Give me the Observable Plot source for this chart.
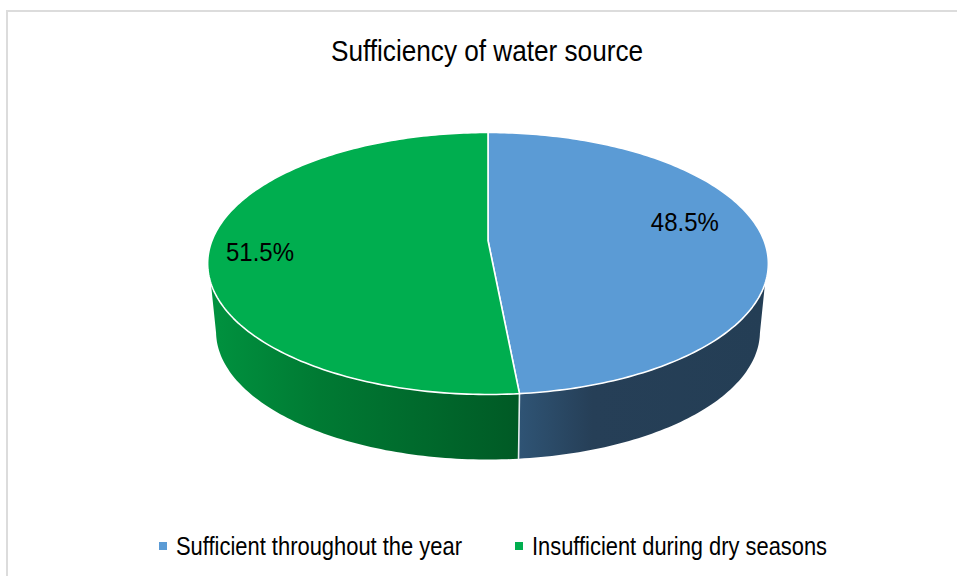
<!DOCTYPE html>
<html><head><meta charset="utf-8">
<script src="https://cdn.jsdelivr.net/npm/d3@7"></script>
<script src="https://cdn.jsdelivr.net/npm/@observablehq/plot@0.6"></script>
<style>
html,body{margin:0;padding:0;background:#fff;}
#page{position:relative;width:957px;height:576px;overflow:hidden;font-family:"Liberation Sans",Arial,sans-serif;color:#000;}
#frame{position:absolute;left:6px;top:10px;right:-4px;bottom:-4px;border-top:2px solid #dcdcdc;border-left:2px solid #dcdcdc;}
.fit{position:absolute;white-space:nowrap;transform-origin:0 0;line-height:1;}
.sw{position:absolute;width:8px;height:8px;}
#chart{position:absolute;left:0;top:76px;}
svg{display:block;}
</style></head><body>
<div id="page">
<div id="frame"></div>
<div id="title" class="fit" style="font-size:30px;left:331px;top:36px">Sufficiency of water source</div>
<div id="chart"></div>
<div id="legend"></div>
</div>
<script>
// Data
const categories = ["Sufficient throughout the year", "Insufficient during dry seasons"];
const shares = [48.5, 51.5];
const topColors = ["#5b9bd5", "#00ae4f"];
const wallStops = [
  [[0, "#2f5475"], [0.3, "#263f57"], [1, "#243e55"]],
  [[0, "#00923f"], [0.35, "#007a33"], [0.65, "#006b2d"], [1, "#005a25"]]
];

// Perspective layout of the disc
const cx = 487.5, k = 276, c = -0.1756, a = 84.8, b = 240;
const depthX = 0.97, depthY = 0.977, rimBottom = 394, baseBottom = 459;
const wallFromY = 283, baseFromY = 263;
const project = (r, th) => {
  const u = r * Math.sin(th), v = -r * Math.cos(th), d = 1 + c * v;
  return {x: cx + k * u / d, y: (a * v + b) / d};
};
const toBase = p => ({x: cx + (p.x - cx) * depthX, y: baseBottom - (rimBottom - p.y) * depthY});

let acc = 0;
const total = d3.sum(shares);
const slices = shares.map((s, i) => {
  const t0 = acc / total * 2 * Math.PI; acc += s;
  const t1 = acc / total * 2 * Math.PI;
  return {i, s, t0, t1};
});
const arcOf = ({t0, t1}) => {
  const n = Math.ceil((t1 - t0) * 180 / Math.PI);
  return d3.range(n + 1).map(j => project(1, t0 + (t1 - t0) * j / n));
};
const slicePath = sl => { const apex = project(0, 0); return [apex, ...arcOf(sl), apex]; };
const wallOf = sl => {
  const arc = arcOf(sl);
  const rim = arc.filter(p => p.y >= wallFromY);
  const base = arc.filter(p => p.y >= baseFromY).map(toBase).reverse();
  return [...rim, ...base, rim[0]];
};
const seamTop = project(1, slices[0].t1);
const seamBase = toBase(seamTop);

const defs = () => {
  const svg = d3.create("svg:defs");
  wallStops.forEach((stops, i) => {
    const g = svg.append("linearGradient").attr("id", "wall" + i).attr("x1", 0).attr("x2", 1).attr("y1", 0).attr("y2", 0);
    stops.forEach(([o, col]) => g.append("stop").attr("offset", o).attr("stop-color", col));
  });
  return svg.node();
};

const labelSpots = [{r: 0.7, dx: 5, dy: -14}, {r: 0.8, dx: -6, dy: 7}];
const labels = slices.map((sl, i) => {
  const p = project(labelSpots[i].r, (sl.t0 + sl.t1) / 2);
  return {x: p.x + labelSpots[i].dx, y: p.y + labelSpots[i].dy, text: sl.s.toFixed(1) + "%"};
});

const plot = Plot.plot({
  width: 957, height: 454,
  margin: 0, marginTop: 0, marginBottom: 0, marginLeft: 0, marginRight: 0,
  x: {type: "identity", axis: null},
  y: {domain: [76, 530], range: [0, 454], axis: null},
  style: {background: "transparent"},
  marks: [
    defs,
    ...slices.map((sl, i) => Plot.line(wallOf(sl), {x: "x", y: "y", fill: `url(#wall${i})`, stroke: "none"})),
    Plot.line([seamTop, seamBase], {x: "x", y: "y", stroke: "#e6edf0", strokeWidth: 1.6}),
    ...slices.map((sl, i) => Plot.line(slicePath(sl), {x: "x", y: "y", fill: topColors[i], stroke: "#fff", strokeWidth: 1.6, strokeLinejoin: "round"})),
    Plot.text(labels, {x: "x", y: "y", text: "text", fontSize: 26.5, fill: "#000", fontFamily: "Liberation Sans"})
  ]
});
document.getElementById("chart").appendChild(plot);
plot.querySelectorAll("text").forEach(t => {
  t.setAttribute("textLength", 68);
  t.setAttribute("lengthAdjust", "spacingAndGlyphs");
});

// Legend
const legendPlaces = [{sw: 159, tx: 176, w: 286}, {sw: 515, tx: 532, w: 295}];
const legend = document.getElementById("legend");
categories.forEach((name, i) => {
  const s = document.createElement("div");
  s.className = "sw";
  s.style.cssText = `left:${legendPlaces[i].sw}px;top:542px;background:${topColors[i]}`;
  legend.appendChild(s);
  const t = document.createElement("div");
  t.className = "fit leg";
  t.dataset.w = legendPlaces[i].w;
  t.style.cssText = `font-size:26px;left:${legendPlaces[i].tx}px;top:533px`;
  t.textContent = name;
  legend.appendChild(t);
});
document.getElementById("title").dataset.w = 312;
document.querySelectorAll(".fit").forEach(el => {
  const w = el.getBoundingClientRect().width;
  el.style.transform = `scaleX(${+el.dataset.w / w})`;
});
</script>
</body></html>
